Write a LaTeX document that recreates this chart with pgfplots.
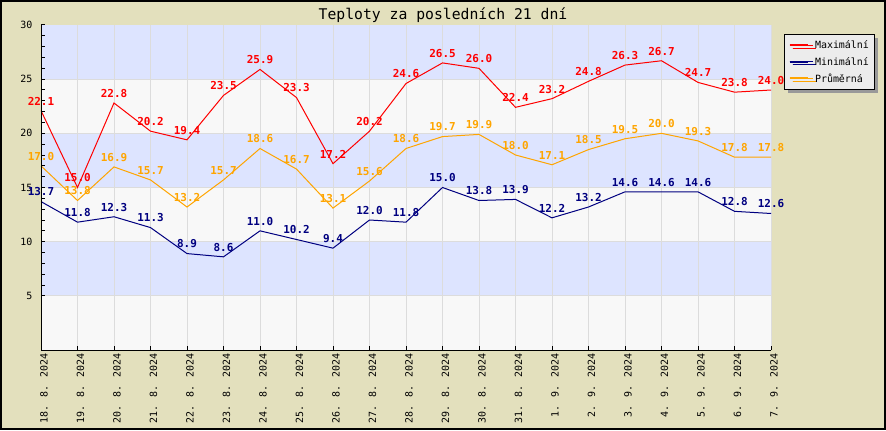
\documentclass[border=0pt]{standalone}
\usepackage{fontspec}
\setmainfont{DejaVu Sans Mono}
\usepackage{pgfplots}
\pgfplotsset{compat=1.18}
\usetikzlibrary{shadows}
\definecolor{bgc}{RGB}{227,224,189}
\definecolor{bandblue}{RGB}{221,228,255}
\definecolor{bandgray}{RGB}{248,248,248}
\definecolor{gridc}{RGB}{220,220,220}
\definecolor{cmax}{RGB}{255,0,0}
\definecolor{cmin}{RGB}{0,0,128}
\definecolor{cavg}{RGB}{255,165,0}
\definecolor{legbg}{RGB}{236,236,236}
\pgfplotstableread{
x max min avg
0 22.1 13.7 17.0
1 15.0 11.8 13.8
2 22.8 12.3 16.9
3 20.2 11.3 15.7
4 19.4 8.9 13.2
5 23.5 8.6 15.7
6 25.9 11.0 18.6
7 23.3 10.2 16.7
8 17.2 9.4 13.1
9 20.2 12.0 15.6
10 24.6 11.8 18.6
11 26.5 15.0 19.7
12 26.0 13.8 19.9
13 22.4 13.9 18.0
14 23.2 12.2 17.1
15 24.8 13.2 18.5
16 26.3 14.6 19.5
17 26.7 14.6 20.0
18 24.7 14.6 19.3
19 23.8 12.8 17.8
20 24.0 12.6 17.8
}\temps
\begin{document}
\begin{tikzpicture}[x=1bp,y=1bp]
\fill[bgc] (0,0) rectangle (886,430);
\draw[black, line width=2bp] (1,1) rectangle (885,429);
\node[font=\fontsize{14.8}{15}\selectfont] at (443,415) {Teploty za posledních 21 dní};
\begin{axis}[
  at={(41bp,80bp)}, anchor=south west,
  scale only axis, width=730bp, height=325bp,
  xmin=0, xmax=20, ymin=0, ymax=30,
  clip=false, axis on top,
  /pgf/number format/assume math mode=true,
  axis x line*=bottom, axis y line*=left,
  axis line style={-, black, line width=1bp},
  tick align=inside,
  xtick={0,...,20},
  xticklabels={18. 8. 2024,19. 8. 2024,20. 8. 2024,21. 8. 2024,22. 8. 2024,23. 8. 2024,24. 8. 2024,25. 8. 2024,26. 8. 2024,27. 8. 2024,28. 8. 2024,29. 8. 2024,30. 8. 2024,31. 8. 2024,1. 9. 2024,2. 9. 2024,3. 9. 2024,4. 9. 2024,5. 9. 2024,6. 9. 2024,7. 9. 2024},
  xticklabel style={rotate=90, anchor=east, font=\fontsize{10}{10}\selectfont, yshift=-3bp},
  ytick={5,10,...,30},
  minor y tick num=4,
  yticklabel style={font=\fontsize{10}{10}\selectfont, xshift=-5bp},
  major tick length=4bp, minor tick length=4bp,
  tick style={black, line width=1bp},
  legend style={at={(rel axis cs:1.0178,0.972)}, anchor=north west,
    draw=black, fill=legbg, line width=1bp,
    font=\fontsize{10}{12}\selectfont,
    drop shadow={shadow xshift=3bp, shadow yshift=-3bp, fill=gray!80, opacity=1},
    row sep=3bp, inner xsep=4bp, inner ysep=4bp},
  legend cell align=left,
  legend image code/.code={\draw[#1, line width=2bp] (0,0) -- (18bp,0); \path (0,0) -- (23bp,0);},
  nodes near coords={\pgfmathprintnumber[fixed,fixed zerofill,precision=1]{\pgfplotspointmeta}},
  every node near coord/.append style={font=\bfseries\fontsize{11}{11}\selectfont, inner sep=0pt, yshift=5bp, anchor=south},
]
\fill[bandgray] (axis cs:0,0) rectangle (axis cs:20,5);
\fill[bandblue] (axis cs:0,5) rectangle (axis cs:20,10);
\fill[bandgray] (axis cs:0,10) rectangle (axis cs:20,15);
\fill[bandblue] (axis cs:0,15) rectangle (axis cs:20,20);
\fill[bandgray] (axis cs:0,20) rectangle (axis cs:20,25);
\fill[bandblue] (axis cs:0,25) rectangle (axis cs:20,30);
\foreach \i in {1,...,20} {\edef\tmp{\noexpand\draw[gridc, line width=1bp] (axis cs:\i,0) -- (axis cs:\i,30);}\tmp}
\foreach \j in {5,10,15,20,25} {\edef\tmp{\noexpand\draw[gridc, line width=1bp] (axis cs:0,\j) -- (axis cs:20,\j);}\tmp}
\addplot[cmax, line width=1bp, mark=none, every node near coord/.append style={text=cmax}] table[x=x,y=max] {\temps};
\addlegendentry{Maximální}
\addplot[cmin, line width=1bp, mark=none, every node near coord/.append style={text=cmin}] table[x=x,y=min] {\temps};
\addlegendentry{Minimální}
\addplot[cavg, line width=1bp, mark=none, every node near coord/.append style={text=cavg}] table[x=x,y=avg] {\temps};
\addlegendentry{Průměrná}
\end{axis}
\end{tikzpicture}
\end{document}
